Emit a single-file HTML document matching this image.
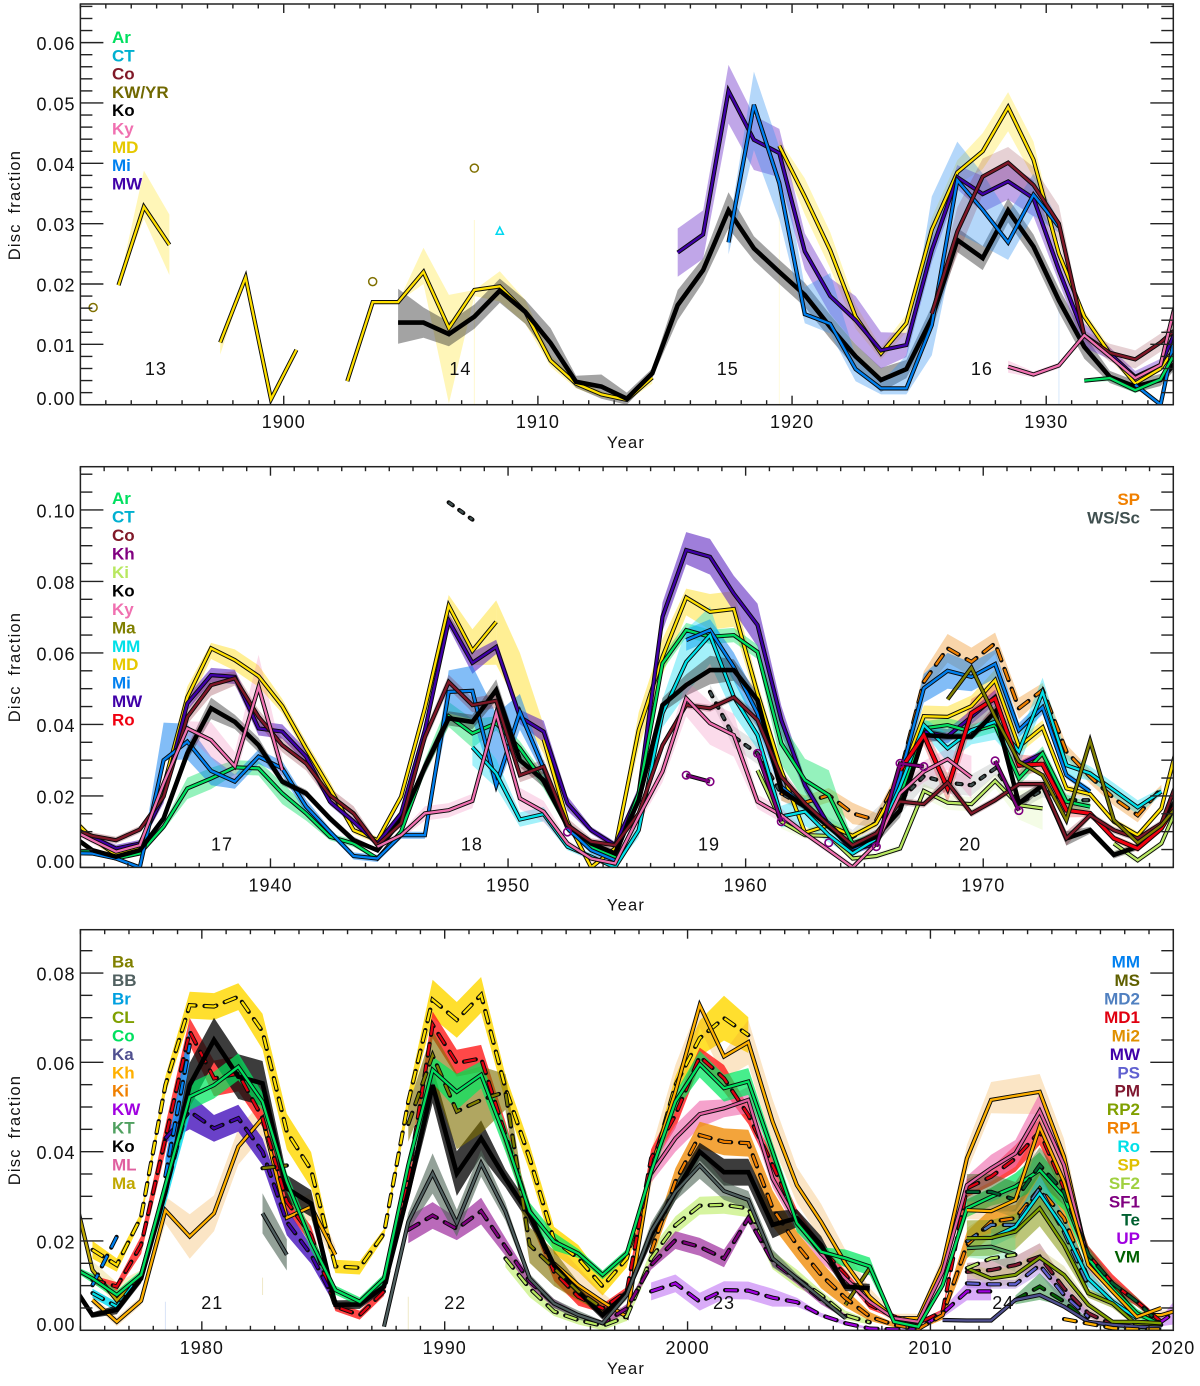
<!DOCTYPE html>
<html lang="en">
<head>
<meta charset="utf-8">
<title>Disc fraction by year</title>
<style>
html,body{margin:0;padding:0;background:#fff}
svg{display:block}
text{font-family:"Liberation Sans",sans-serif;fill:#111}
.tick{font-size:18px;letter-spacing:1px}
.lg{font-size:17px;font-weight:bold}
.ttl{font-size:16.5px;letter-spacing:1.2px;word-spacing:4px}
</style>
</head>
<body>
<svg id="chart" xmlns="http://www.w3.org/2000/svg" width="1200" height="1386" viewBox="0 0 1200 1386"></svg>
<script>
/* ---------- data : panel 1 (1892-1935) ---------- */
const p1Cycles=['13','14','15','16'];
const p1CycleYears=[1894.97,1906.95,1917.47,1927.47];
const p1XTicks=[1900,1910,1920,1930];
const p1YTicks=[0,0.01,0.02,0.03,0.04,0.05,0.06];
const p1LegendLeft=['Ar','CT','Co','KW/YR','Ko','Ky','MD','Mi','MW'];
const p1CircleYears=[1892.5,1903.5,1907.5];
const p1CircleVals=[.0161,.0204,.0392];
const p1TriYears=[1908.5];
const p1TriVals=[.0288];
const p1SpikeYears=[1907.5,1919.5,1930.5];
const p1SpikeTops=[.0306,.042,.0175];
const p1MD=[.0198,.0328,.0265,null,.0103,.0211,.0009,.0091,null,.0039,.017,.017,.022,.0127,.019,.0196,.0154,.0073,.0035,.0017,.0008,.0045,null,null,null,null,.0429,.0345,.0256,.0146,.0085,.0135,.029,.0385,.042,.0493,.0406,.025,.0146,.0085,.0035,.006,.012];
const p1MDe=[0,[.002,.006],.005,0,[.002,0],0,0,0,0,0,0,0,[.002,.004],[.0125,.0055],[.001,0],.0025,.002,.001,.0008,.0005,.0003,.001,0,0,0,0,.001,.003,.003,.002,.001,.0015,.002,.002,.003,[.004,.0025],.003,.001,.001,.001,.0005,.0005,0];
const p1Ko=[.0136,.0136,.0117,.0146,.0189,.0154,.0102,.0038,.003,.001,.0052,.0165,.0223,.0322,.0259,.022,.0182,.0129,.008,.0041,.0059,.0143,.0273,.0243,.0322,.0262,.0173,.0096,.0046,.003,.0041,.009];
const p1Koe=[[.0035,.0056],.0025,.002,.002,.002,.002,.0025,.001,.002,.001,.0008,.0025,.002,.003,.002,.002,.002,.002,.002,.002,.0015,.002,.002,.002,.002,.002,.002,.002,.001,.001,.001,.001];
const p1MW=[.0252,.0282,.052,.0439,.0417,.0254,.018,.014,.009,.0099,.0256,.0377,.0349,.037,.0342,.0223,.0115,.0085,.0046,.0066,.016];
const p1MWe=[.004,.004,[.0054,.0043],[.005,.004],.004,.003,.003,.004,.003,.002,.002,.002,.003,.003,.003,.002,.002,.001,.001,.001,.001];
const p1Mi=[.0269,.0497,.0367,.015,.0134,.0059,.0027,.0027,.0132,.0372,.0323,.0269,.0348,.0295,null,null,.0033,0,.02];
const p1Mie=[.002,[.0075,.0055],.006,[.0015,.0045],[.0016,.0084],.002,.001,[.001,.0055],[.005,.0213],[.0088,.0064],.006,[.0029,.0048],.0035,.001,0,0,0,0,0];
const p1Co=[.0151,.0287,.0378,.0401,.0364,.03,.0115,.0086,.0075,.0103,.014];
const p1Coe=[.001,.004,.003,.0026,.003,.003,.0008,.0015,.0015,.0015,.001];
const p1Ky=[.0063,.005,.0065,.0115,.008,.0044,.0066,.024];
const p1Kye=[.001,.0005,.0005,.0005,.0005,.0005,.0005,0];
const p1Ar=[.004,.0044,.0024,.0042,.012];
const p1Are=[.0003,.0005,.0005,.0005,0];

/* ---------- data : panel 2 (1932-1978) ---------- */
const p2Cycles=['17','18','19','20'];
const p2CycleYears=[1937.96,1948.48,1958.46,1969.45];
const p2XTicks=[1940,1950,1960,1970];
const p2YTicks=[0,0.02,0.04,0.06,0.08,0.10];
const p2LegendLeft=['Ar','CT','Co','Kh','Ki','Ko','Ky','Ma','MM','MD','Mi','MW','Ro'];
const p2LegendRight=['SP','WS/Sc'];
const p2MD=[.0147,.0081,.0035,.0058,.0226,.0476,.0613,.058,.0535,.0451,.0333,.0221,.0104,.0076,.0198,.0445,.0732,.0606,.0687,null,.0358,.0128,0,.0053,.0384,.0589,.0755,.0715,.0723,.0487,.0272,.0097,.0118,.0088,.0123,.0244,.0423,.0421,.0451,.0524,.0338,.0392,.0221,.0205,.0128,.009,.0165,.043];
const p2MDe=[.001,.001,.001,.001,.002,.003,[.003,.0015],.003,.003,.002,.002,.002,.001,.001,.001,.002,[.005,.003],[.004,.006],[.012,.006],0,.004,.001,.001,.001,.005,.005,[.005,.0025],.005,.005,.003,.002,.001,.001,.001,.001,.002,[.003,.003],.003,.003,.003,.002,.002,.001,.001,.001,.001,.001,0];
const p2MDBridge=[.0687,.052,.0358];
const p2MDBridgeE=[[.012,.006],[.008,.008],.004];
const p2MW=[.01,.0085,.0053,.0067,.02,.0459,.0538,.0533,.0389,.038,.031,.0184,.0128,.0067,.0151,.0384,.069,.0572,.0617,.0421,.038,.0179,.0104,.0062,.0207,.0701,.0888,.0869,.0766,.0678,.0412,.023,.0118,.0048,.0067,.02,.038,.0367,.0421,.0477,.0286,.0319];
const p2MWe=[.0005,.0005,.001,.001,.002,.002,.002,.002,.002,.002,.002,.001,.001,.001,.001,.002,.002,.003,.002,.002,.003,.002,.001,.001,.002,.004,[.004,.005],[.005,.005],.005,.006,.004,.002,.001,.001,.001,.002,.002,.002,.002,.002,.001,.001];
const p2Ko=[.0096,.0048,.003,.0048,.0137,.0319,.0445,.0407,.0342,.024,.0207,.0137,.0076,.0048,.0132,.028,.0417,.0407,.0496,.03,.0244,.0118,.0067,.0039,.0188,.0454,.051,.0552,.0552,.0468,.0216,.017,.0114,.0058,.0086,.016,.037,.0366,.0366,.0435,.0179,.023,.0081,.0104,.0035,.0058,.0114,.024];
const p2Koe=[.0005,.0005,.0005,.0005,.001,.002,.003,.002,.002,.001,.001,.001,.001,.0005,.001,.002,.002,.002,.003,.002,.002,.001,.001,.001,.001,.002,.003,.004,.003,.002,.001,.001,.001,.001,.002,.002,.002,.001,.001,.002,.002,.001,.002,.001,.001,.001,.001,.001];
const p2Co=[.0112,.0088,.0076,.0106,.0198,.0421,.051,.0529,.0421,.0342,.0291,.0202,.0151,.0062,.0123,.0365,.0519,.0454,.0466,.0258,.0282,.0118,.0072,.0062,.0151,.0342,.0454,.0445,.0476,.0412,.0254,.0179,.0118,.0062,.0095,.0184,.0177,.0237,.0151,.0188,.0233,.0233,.0081,.0146,.0104,.0081,.0123,.03];
const p2Coe=[.0005,.001,.001,.001,.001,.002,.003,.002,.002,.002,.002,.002,.002,.001,.001,.002,.002,.002,.002,.002,.002,.002,.001,.001,.001,.001,.001,.001,.001,.002,.002,.001,.001,.001,.001,.001,.001,.002,.001,.001,.001,.001,.002,.001,.001,.001,.001,.001];
const p2Ky=[.011,.0076,.0044,.0062,.0235,.0389,.0356,.0283,.0505,.0272,null,null,null,.0058,.009,.0151,.016,.0186,.0431,.0193,.0156,.0067,.0025,.0011,.0142,.0268,.0473,.0403,.037,.0184,.0146,.0095,.0048,0,.0067,.0207,.0268,.0303,.0252];
const p2Kye=[.001,.001,.001,.001,.002,.002,.005,.004,[.002,.009],[.004,.004],0,0,0,.001,.001,.002,.002,.002,.002,.003,.003,.001,.001,.001,.002,.003,.005,.006,.006,.002,.002,.001,.001,.001,.001,.002,.003,.003,.006];
const p2Ar=[.0044,.0044,.0025,.0039,.0114,.0221,.0249,.028,.0277,.0207,.0151,.0086,.0067,.0025,.01,.0282,.0423,.0375,.0403,.0333,.024,.0114,.0058,.003,.0207,.0571,.0664,.0645,.065,.0603,.0347,.0244,.0202,.0067,.009,.02,.0389,.0398,.038,.0398,.0249,.0319,.0184,.017];
const p2Are=[.0005,.0005,.0005,.0005,.001,.003,.003,.002,.002,.003,.002,.001,.001,.0005,.001,.002,[.003,.004],.004,.002,.002,.002,.001,.001,.001,.002,.002,.002,.002,.002,.002,.006,.006,.007,.001,.001,.001,.002,.002,.002,.002,.002,.002,.002,.001];
const p2Mi=[.004,.0039,.0025,0,.03,.0352,.027,.024,.031,.0277,.017,.01,.0032,.0025,.009,.009,.0491,.0494,.023,.0435,.0277,.0109,.0048,.002,null,null,.0636,.0664,.0561,.0431,.0226,.017,.0123,.0053,.0072,.0254,.0501,.055,.0533,.0569,.0384,.0448,.0258,.0212];
const p2Mie=[0,0,0,0,[0,.0105],.005,.004,.002,.002,.002,.002,.001,.001,.001,.001,.001,.006,[.008,.007],[.002,.02],.005,.002,.001,.001,.001,0,0,.003,.003,.004,.004,.002,.001,.001,.001,.001,.003,.004,.005,.004,.004,.002,.002,.001,.001];
const p2MM=[.0336,.0263,.0134,.0149,.0058,.003,0,.0104,.0431,.0575,.065,.0477,.037,.0142,.0156,.009,.0039,.008,.0226,.0398,.0333,.0384,.0407,.0324,.0491,.0286,.0263,.0216,.0168,.0212];
const p2MMe=[.005,.004,.002,.002,.001,.001,.001,.002,.004,.009,.008,.005,.004,.003,.004,.002,.001,.001,.002,.002,.004,.004,.005,.004,.004,.003,.002,.002,.002,.001];
const p2Ro=[.0272,.037,.0221,.0431,.0473,.0286,.0289,.016,.0151,.0081,.0053,.0109,.022];
const p2Roe=[.002,.003,.004,.004,.004,.003,.002,.002,.001,.001,.001,.001,0];
const p2SP=[.0207,.0181,.0202,.0151,.0132,.0263,.0519,.0613,.0575,.0627,.0445,.0496,.0324,.0254,.0193,.0146,.0221];
const p2SPe=[.002,.002,.002,.003,.002,.002,.003,.004,.004,.003,.003,.002,.002,.002,.002,.002,.001];
const p2Ma=[.047,.0559,.0421,.0296,.0258,.0132,.0354,.0132,.0069,.0118,.02];
const p2Ki=[.0272,.0128,.009,.0088,.0025,.0032,.0053,.0214,.0181,.0177,.0242,.0174,.0165,null,null,.0067,.002,.0067,.022];
const p2Kie=[0,.002,.001,.001,.001,.001,.001,.002,.002,.002,.002,.004,.006,.004,.004,.002,.001,.001,0];
const p2WS=[.1021,.0973,null,null,null,null,null,null,null,null,null,.0491,.0365,.0319,.0207,.017,.012,.0085,.0125,.0188,.0255,.0237,.023,.0277,.0179,.0216,.0188,.0188];
const p2WSe=[0,0,0,0,0,0,0,0,0,0,0,.002,.003,.003,.002,.002,.002,.002,.004,.004,.003,.003,.003,.002,.002,.002,.002,.002];
const p2Kh=[.0099,null,null,null,null,.0258,.024,null,.0319,.0128,null,.0069,null,.0058,.0291,.0282,null,null,.0298,.0159];

/* ---------- data : panel 3 (1975-2020) ---------- */
const p3Cycles=['21','22','23','24'];
const p3CycleYears=[1980.43,1990.43,2001.5,2013];
const p3XTicks=[1980,1990,2000,2010,2020];
const p3YTicks=[0,0.02,0.04,0.06,0.08];
const p3LegendLeft=['Ba','BB','Br','CL','Co','Ka','Kh','Ki','KW','KT','Ko','ML','Ma'];
const p3LegendRight=['MM','MS','MD2','MD1','Mi2','MW','PS','PM','RP2','RP1','Ro','SP','SF2','SF1','Te','UP','VM'];
const p3SpikeYears=[1978.5,1982.5,1988.5];
const p3SpikeTops=[.0064,.0118,.0075];
const p3SpikeBottoms=[0,.0079,0];
const p3SP=[.018,.0146,.0254,.0549,.0728,.0725,.0747,.0669,.0445,.0359,.0143,.014,.0217,.0512,.074,.0695,.0751,.0542,.0385,.0202,.0161,.0098,.0161,.0355,.0549,.0654,.0699,.0661];
const p3SPe=[.002,.0015,.001,.002,.003,.003,.003,.004,.004,.004,.0015,.0015,.001,.002,[.004,.0045],.004,[.004,.004],.003,.003,.003,.003,.002,.002,.002,.002,.004,.005,.004];
const p3Ma1=[.036,.0135,.0067,.0125,.032];
const p3Ma1e=[0,.002,[.001,.004],.001,0];
const p3MaTail=[.0057,.0139];
const p3Kh=[.0068,.0019,.0066,.0269,.021,.0262,.0411,.0475,.0252,.0277,.0169,null,null,null,null,null,null,null,null,.015,.0101,.0064,.003,.0363,.0534,.0728,.0613,.0645,.0467,.0325,.0243,.015,.0075,.0027,.0027,.0146,.0385,.0516,.0525,.0534,.0389,.0154,.0101,.0034,.0034,.005];
const p3Khe=[.001,.001,.001,[.003,.003],.005,.004,.004,.004,.003,.003,.002,0,0,0,0,0,0,0,0,.005,.004,.002,.001,.004,.006,[.005,.0005],[.005,.001],.005,.005,.004,.004,.003,.002,.001,.001,.002,.003,[.003,.004],.004,[.005,.004],.004,.001,.001,.001,.001,0];
const p3Ko=[.0116,.0034,.0046,.0116,.031,.0549,.065,.0568,.0553,.0318,.0284,.0057,.0058,.0098,.031,.0549,.0351,.043,.034,.0258,.0146,.0087,.0034,.0083,.0213,.031,.04,.0354,.0354,.0236,.0251,.0191,.0098,.0094];
const p3Koe=[0,.0006,.001,.001,.001,.005,.005,.005,.005,.003,.003,.001,.001,.001,.002,.004,.005,.004,.002,.002,.001,.001,.001,.001,.002,.002,.002,.003,.003,.003,.002,.002,.001,.001];
const p3MD1=[.0113,.0098,.0191,.043,.0669,.0564,.0575,.0475,.0288,.0213,.0053,.0034,.0087,.034,.0684,.0598,.0609,.0437,.0266,.0131,.0075,.0049,.0087,.0385,.0482,.0613,.0564,.0482,.037,.0251,.0184,.0124,.0057,.0031,.0016,.0042,.0318,.0344,.0385,.0445,.0318,.0169,.0105,.0064,.0019];
const p3MD1e=[.001,.001,.002,.003,.003,.004,.004,.002,.002,.002,.001,.001,.001,.002,.003,.003,.003,.003,.002,.002,.002,.001,.001,.002,.003,.002,.003,.002,.002,.002,.001,.001,.001,.0005,.0005,.0005,.002,.002,.003,.003,.002,.002,.002,.001,.0005];
const p3Co=[.0146,.0116,.0079,.0124,.0325,.0523,.0549,.059,.0512,.0333,.0199,.009,.0064,.0116,.037,.0583,.0534,.0572,.043,.0266,.0199,.0172,.0124,.0172,.0355,.0512,.0596,.0542,.0557,.04,.024,.0176,.0161,.0143,.0019,.0008,.0101,.0273,.0299,.0322,.0359,.0299,.0161,.0094,.0038,.0012];
const p3Coe=[.0005,.001,.001,.001,.002,.003,.003,.003,.002,.002,.002,.001,.001,.001,.002,.003,.004,.003,.003,.002,.002,.001,.001,.001,.002,.002,.003,.003,.003,.002,.002,.001,.002,.002,.0005,.0005,.001,.002,.002,.003,.004,.003,.002,.001,.001,.0005];
const p3MW=[.043,.049,.0452,.0475,.04,.0243,.0169,.0064];
const p3MWe=[.001,.004,.003,.003,.003,.003,.002,.001];
const p3Br=[.0101,.021,null,.0345,.0639];
const p3Bre=[0,0,0,.004,.0045];
const p3Ba=[.0083,.0053,.0125,.031,.052];
const p3Bae=[.001,.001,.001,.003,.004];
const p3BB=[.0262,.0169,null,null,null,.0008,.0243,.0351,.024,.0374,.0266,.0116,.006,.0034,.0016,.0079,.0221,.031,.0369,.0312,.0292,.0161,.0116,.0072,.0027];
const p3BBe=[.0045,.0035,0,0,0,0,.002,.0045,.003,.003,.002,.001,.001,.001,.0005,.001,.002,.002,.003,.002,.002,.002,.001,.001,.0005];
const p3Ma=[.0363,.0369,null,null,null,null,.0462,.0616,.049,.0516,.0534,.0191,.0139,.0087,.0049];
const p3Mae=[0,0,0,0,0,0,.004,.0055,.0085,.0075,.004,.004,.004,.002,.001];
const p3SF1=[.0225,.0257,.0227,.0267,.0187,.0109,.006,.0034,.0016,.0049,.0146,.0202,.0187,.0161,.0251,.0154,.0113,.0068,.0031];
const p3SF1e=[.003,.003,.0025,.003,.002,.001,.001,.0005,.0005,.001,.001,.002,.002,.002,.001,.001,.001,.001,.0005];
const p3UP=[.0087,.0105,.0064,.009,.0089,.0073,.0063,.0034,.0016,.0004,.0002,.0002,.0038,.0087,.0087,null,null,null,null,null,.0016,.0019,.0057];
const p3UPe=[.002,.002,.002,.002,.002,.002,.001,.0005,.0005,.0002,.0002,.0002,.001,.002,.002,0,0,0,0,0,.0005,.001,.004];
const p3SF2=[.0161,.0094,.0042,.0023,.001,.0031,.0161,.0235,.0279,.0281,.0273,.0157,.0116,.0079,.0034,.0018];
const p3SF2e=[.002,.002,.001,.001,.001,.001,.002,.002,.002,.002,.002,.002,.002,.001,.001,.0005];
const p3RP1=[.0176,.0333,.0437,.0422,.0419,.0273,.0191,.0124,.0072,.0031,.0012,.0003,.0034,.0191,.0243,.0251,.0318,.0251,.0116];
const p3RP1e=[.002,.003,.003,.003,.003,.004,.003,.003,.002,.001,.0005,.0002,.001,.003,.003,.003,.004,.003,.001];
const p3ML=[.0351,.043,.0484,.0497,.0516,.034,.0243,.0172,.0116,.0064,.0027,.0019,.0131,.0325,.0363,.0396,.0491,.037,.0154,.0094];
const p3MLe=[.002,.003,.003,.002,.003,.002,.002,.002,.001,.001,.0005,.0005,.002,.002,.003,.003,.004,.003,.002,.001];
const p3Mi2=[.0269,.0267,.0292,.0456,.0333,.0146,.0087,.003,.005];
const p3Mi2e=[.002,.002,.002,.003,.003,.002,.001,.001,0];
const p3Te=[.031,.031,.0292,.037,.031,.0169,.0105,.0064,.0012];
const p3Tee=[.004,.004,.004,.004,.003,.002,.001,.001,.0005];
const p3VM=[.0068,.0098,.0064,.0019,.0008,.0004,.0003];
const p3VMe=[.001,.003,.001,.0005,.0003,.0002,.0002];
const p3PM=[.0131,.0135,.0146,.0165,.0094,.0038,.0012];
const p3PMe=[.002,.002,.002,.003,.002,.001,.0005];
const p3PS=[.0105,.0103,.0103,.0146,.0079,.003];
const p3PSe=[.001,.001,.001,.002,.002,.001];
const p3MD2=[.0199,.0236,.0236,.0318,.022,.01];
const p3MD2e=[.003,.003,.003,.003,.002,.001];
const p3Ro=[.0206,.0232,.0307,.0228,.0116,.0064,.0027];
const p3Roe=[.002,.002,.004,.003,.002,.001,.001];
const p3RP2=[.0206,.0207,.0221,.0273,.0191,.0083,.006,.0012,.0008];
const p3RP2e=[.004,.004,.004,.004,.003,.001,.001,.0005,.0003];
const p3MS=[.0139,.0116,.0124,.0163,.0124,.0057,.0019,.0019,.0016];
const p3MSe=[.001,.002,.002,.002,.002,.001,.0005,.0005,.0003];
const p3KT=[.0184,.0187,.017];
const p3KTe=[.002,.003,.004];
const p3SFb=[.0139,.0161,.0169];
const p3Ka=[.0023,.0022,.0022,.0068,.0079,.0053,.0019,.0012,.0008,.0006];
const p3Late=[.0025,.0015,.0005,.0002,.0002];

/* ---------- palette & layout ---------- */
const palette={Ar:'#00e060',CT:'#00b0d0',Co:'#801828',KWYR:'#706800',Ko:'#000000',Ky:'#f070b0',MD:'#ffe000',MDt:'#e6c800',Mi:'#0080f0',MW:'#4000a8',Kh:'#800080',Ki:'#b8e860',Ma:'#808000',MM:'#00e0e8',Ro:'#f00010',SP:'#f08000',WS:'#405050',
 Ba:'#808000',BB:'#506060',Br:'#00a0e0',CL:'#80a000',Ka:'#505090',KW:'#a000e0',KT:'#50a060',ML:'#e060a0',Ma3:'#c0a800',MS:'#606000',MD2:'#5080c0',MD1:'#e00010',Mi2:'#e09000',PS:'#6060d0',PM:'#801830',RP2:'#80a000',RP1:'#f08000',SPy:'#e0c000',SF2:'#a0d040',SF1:'#800080',Te:'#006030',UP:'#a000e0',VM:'#006000',Kho:'#ffb000',Gr:'#00e060',Co3:'#00e060'};
const legendColors={Ar:'Ar',CT:'CT',Co:'Co','KW/YR':'KWYR',Ko:'Ko',Ky:'Ky',MD:'MDt',Mi:'Mi',MW:'MW',Kh:'Kh',Ki:'Ki',Ma:'Ma',MM:'MM',Ro:'Ro',SP:'SP','WS/Sc':'WS'};
const legend3L={Ba:'Ba',BB:'BB',Br:'Br',CL:'CL',Co:'Gr',Ka:'Ka',Kh:'Kho',Ki:'SP',KW:'KW',KT:'KT',Ko:'Ko',ML:'ML',Ma:'Ma3'};
const legend3R={MM:'Mi',MS:'MS',MD2:'MD2',MD1:'MD1',Mi2:'Mi2',MW:'MW',PS:'PS',PM:'PM',RP2:'RP2',RP1:'RP1',Ro:'MM',SP:'SPy',SF2:'SF2',SF1:'SF1',Te:'Te',UP:'UP',VM:'VM'};

const panels=[
 {id:'top',L:80.4,R:1173.3,T:4,B:404.7,x0:1892,x1:1935,yMax:.0664,yMinor:.002,labelBase:428,yearBase:448,titleY:205,cycleBase:375,
  xticks:p1XTicks,yticks:p1YTicks,cycles:p1Cycles,cycleYears:p1CycleYears,
  legL:p1LegendLeft,legLMap:legendColors,legLBase:43,legStep:18.3,legR:[],legRMap:{},legRBase:0,
  spikes:{years:p1SpikeYears,tops:p1SpikeTops,colors:['#fff8d0','#fffbe0','#d8e8fb']},
  series:[
   {n:'md',s:1893.5,v:p1MD,e:p1MDe,c:'MD',b:'#ffe000',o:.28},
   {n:'ko',s:1904.5,v:p1Ko,e:p1Koe,c:'Ko',b:'#333333',o:.45,k:'thick'},
   {n:'mw',s:1915.5,v:p1MW,e:p1MWe,c:'MW',b:'#6a2ac8',o:.42},
   {n:'mi',s:1917.5,v:p1Mi,e:p1Mie,c:'Mi',b:'#3090f0',o:.36},
   {n:'co',s:1925.5,v:p1Co,e:p1Coe,c:'Co',b:'#801828',o:.2},
   {n:'ky',s:1928.5,v:p1Ky,e:p1Kye,c:'Ky',b:'#f070b0',o:.25},
   {n:'ar',s:1931.5,v:p1Ar,e:p1Are,c:'Ar',b:'#00e060',o:.3}
  ]},
 {id:'middle',L:80.4,R:1173.3,T:466.7,B:867.4,x0:1932,x1:1978,yMax:.1121,yMinor:.005,labelBase:891.7,yearBase:910.7,titleY:667,cycleBase:850.7,
  xticks:p2XTicks,yticks:p2YTicks,cycles:p2Cycles,cycleYears:p2CycleYears,
  legL:p2LegendLeft,legLMap:legendColors,legLBase:504,legStep:18.47,legR:p2LegendRight,legRMap:legendColors,legRBase:505,
  series:[
   {n:'sp',s:1961.5,v:p2SP,e:p2SPe,c:'SP',b:'#f09020',o:.38,k:'dash'},
   {n:'ki',s:1960.5,v:p2Ki,e:p2Kie,c:'Ki',b:'#c8f080',o:.2},
   {n:'ws',s:1947.5,v:p2WS,e:p2WSe,c:'WS',b:'#405050',o:.14,k:'dash',d:'5 8'},
   {n:'md',s:1931.5,v:p2MD,e:p2MDe,c:'MD',b:'#ffd800',o:.42},
   {n:'md-bridge',s:1949.5,v:p2MDBridge,e:p2MDBridgeE,c:'MD',b:'#ffd800',o:.42,k:'band'},
   {n:'mw',s:1931.5,v:p2MW,e:p2MWe,c:'MW',b:'#5a20c0',o:.58},
   {n:'ar',s:1931.5,v:p2Ar,e:p2Are,c:'Ar',b:'#00e060',o:.42},
   {n:'mi',s:1931.5,v:p2Mi,e:p2Mie,c:'Mi',b:'#1080f0',o:.52},
   {n:'mm',s:1948.5,v:p2MM,e:p2MMe,c:'MM',b:'#00d8f0',o:.36},
   {n:'ko',s:1931.5,v:p2Ko,e:p2Koe,c:'Ko',b:'#333333',o:.45,k:'thick'},
   {n:'ro',s:1966.5,v:p2Ro,e:p2Roe,c:'Ro',b:'#f02020',o:.3,w:3},
   {n:'co',s:1931.5,v:p2Co,e:p2Coe,c:'Co',b:'#801828',o:.28},
   {n:'ky',s:1931.5,v:p2Ky,e:p2Kye,c:'Ky',b:'#f070b0',o:.25},
   {n:'ma',s:1968.5,v:p2Ma,c:'Ma'},
   {n:'kh',s:1952.5,v:p2Kh,c:'Kh',k:'mark'}
  ]},
 {id:'bottom',L:80.4,R:1173.3,T:929.7,B:1330.3,x0:1975,x1:2020,yMax:.0897,yMinor:.005,labelBase:1354,yearBase:1374,titleY:1130,cycleBase:1309,
  xticks:p3XTicks,yticks:p3YTicks,cycles:p3Cycles,cycleYears:p3CycleYears,
  legL:p3LegendLeft,legLMap:legend3L,legLBase:967.7,legStep:18.43,legR:p3LegendRight,legRMap:legend3R,legRBase:967.7,
  spikes:{years:p3SpikeYears,tops:p3SpikeTops,bottoms:p3SpikeBottoms,colors:['#d8e4f8','#efe8c8','#efe8c8']},
  series:[
   {n:'sp',s:1975.5,v:p3SP,e:p3SPe,c:'MD',b:'#ffd800',o:.82,k:'dash'},
   {n:'ma-early',s:1974.5,v:p3Ma1,e:p3Ma1e,c:'Ma3',b:'#f0e090',o:.5},
   {n:'ma-tail',s:2006.5,v:p3MaTail,c:'Ma'},
   {n:'kh',s:1975.5,v:p3Kh,e:p3Khe,c:'Kho',b:'#f0a030',o:.28},
   {n:'md1',s:1975.5,v:p3MD1,e:p3MD1e,c:'MD1',b:'#ff2020',o:.82,k:'dash'},
   {n:'ml',s:1998.5,v:p3ML,e:p3MLe,c:'ML',b:'#f070b0',o:.65},
   {n:'mw',s:1978.5,v:p3MW,e:p3MWe,c:'MW',b:'#5020c0',o:.85,k:'dash'},
   {n:'br',s:1975.5,v:p3Br,e:p3Bre,c:'Mi',b:'#2090f0',o:.9,k:'dash'},
   {n:'ba',s:1975.5,v:p3Ba,e:p3Bae,c:'MM',b:'#00d8f0',o:.8,k:'dash'},
   {n:'sf2',s:1992.5,v:p3SF2,e:p3SF2e,c:'Ki',b:'#c8f080',o:.75,k:'dash'},
   {n:'sf1',s:1988.5,v:p3SF1,e:p3SF1e,c:'Kh',b:'#a030a0',o:.72,k:'dash'},
   {n:'up',s:1998.5,v:p3UP,e:p3UPe,c:'KW',b:'#b050f0',o:.48,k:'dash'},
   {n:'rp1',s:1998.5,v:p3RP1,e:p3RP1e,c:'RP1',b:'#f09010',o:.82,k:'dash'},
   {n:'ko',s:1974.5,v:p3Ko,e:p3Koe,c:'Ko',b:'#111111',o:.82,k:'thick'},
   {n:'ma',s:1982.5,v:p3Ma,e:p3Mae,c:'Ma',b:'#807000',o:.62,k:'dash'},
   {n:'bb',s:1982.5,v:p3BB,e:p3BBe,c:'BB',b:'#506858',o:.62,w:2.2},
   {n:'co',s:1974.5,v:p3Co,e:p3Coe,c:'Co3',b:'#00e860',o:.72},
   {n:'te',s:2011.5,v:p3Te,e:p3Tee,c:'Te',b:'#507030',o:.5,k:'dash'},
   {n:'md2',s:2011.5,v:p3MD2,e:p3MD2e,c:'MD2',b:'#f0b040',o:.45,k:'dash'},
   {n:'ro',s:2012.5,v:p3Ro,e:p3Roe,c:'MM',b:'#00c0e0',o:.55},
   {n:'rp2',s:2011.5,v:p3RP2,e:p3RP2e,c:'RP2',b:'#90a020',o:.6},
   {n:'kt',s:2011.5,v:p3KT,e:p3KTe,c:'KT',b:'#50e090',o:.35},
   {n:'pm',s:2011.5,v:p3PM,e:p3PMe,c:'PM',b:'#a05060',o:.4,k:'dash'},
   {n:'ms',s:2011.5,v:p3MS,e:p3MSe,c:'CL',b:'#c0c060',o:.35},
   {n:'ps',s:2011.5,v:p3PS,e:p3PSe,c:'PS',b:'#a070e0',o:.4,k:'dash'},
   {n:'sf2b',s:2011.5,v:p3SFb,c:'Ki',k:'dash'},
   {n:'vm',s:2013.5,v:p3VM,e:p3VMe,c:'VM',b:'#309040',o:.55,k:'dash'},
   {n:'ka',s:2010.5,v:p3Ka,c:'Ka'},
   {n:'mi2',s:2011.5,v:p3Mi2,e:p3Mi2e,c:'Kho',b:'#f0a030',o:.25},
   {n:'late',s:2015.5,v:p3Late,c:'Kho',k:'dash'}
  ]}
];

const NS='http://www.w3.org/2000/svg';
const svg=document.getElementById('chart');
function mk(tag,parent,attrs){
  const el=document.createElementNS(NS,tag);
  for(const k in attrs) el.setAttribute(k,attrs[k]);
  parent.appendChild(el);
  return el;
}
function fmt(v){return v.toFixed(2);}

panels.forEach(function(p){
  const xs=function(y){return p.L+(y-p.x0)*(p.R-p.L)/(p.x1-p.x0);};
  const ys=function(v){return p.B-v*(p.B-p.T)/p.yMax;};
  const g=mk('g',svg,{});
  
  
  const cp=mk('clipPath',g,{id:'clip-'+p.id});
  mk('rect',cp,{x:p.L,y:p.T,width:p.R-p.L,height:p.B-p.T});
  const plot=mk('g',g,{'clip-path':'url(#clip-'+p.id+')'});
  
  
  const bandLayer=mk('g',plot,{});
  const lineLayer=mk('g',plot,{});

  if(p.spikes){
    p.spikes.years.forEach(function(y,i){
      const low=p.spikes.bottoms?p.spikes.bottoms[i]:0;
      const sp=mk('line',bandLayer,{x1:xs(y),x2:xs(y),y1:ys(low),y2:ys(p.spikes.tops[i]),stroke:p.spikes.colors[i],'stroke-width':1});
      
      
    });
  }

  p.series.forEach(function(s){
    let run=[],runs=[];
    s.v.forEach(function(val,i){
      if(val===null){ if(run.length) runs.push(run); run=[]; }
      else run.push(i);
    });
    if(run.length) runs.push(run);
    runs.forEach(function(r){
      if(s.e&&r.length>1){
        const up=[],dn=[];
        r.forEach(function(i){
          const e=s.e[i]===undefined?0:s.e[i];
          const d=Array.isArray(e)?e[0]:e,u=Array.isArray(e)?e[1]:e;
          const x=xs(s.s+i);
          up.push(x.toFixed(1)+','+ys(s.v[i]+u).toFixed(1));
          dn.unshift(x.toFixed(1)+','+ys(Math.max(0,s.v[i]-d)).toFixed(1));
        });
        const band=mk('polygon',bandLayer,{points:up.concat(dn).join(' '),fill:s.b,'fill-opacity':s.o});
        
        
      }
      if(s.k==='band') return;
      const pts=r.map(function(i){return xs(s.s+i).toFixed(1)+','+ys(s.v[i]).toFixed(1);}).join(' ');
      const col=palette[s.c];
      if(s.k==='thick'){
        const l=mk('polyline',lineLayer,{points:pts,fill:'none',stroke:'#000','stroke-width':4.6,'stroke-linejoin':'miter'});
        
        
      }else{
        const isDash=s.k==='dash';
        const dash=isDash?(s.d||'12 9'):'none';
        const w=s.w||2.3;
        const o=mk('polyline',lineLayer,{points:pts,fill:'none',stroke:'#0a0a0a','stroke-width':w+1.9,'stroke-dasharray':dash,'stroke-linecap':isDash?'round':'butt','stroke-linejoin':'miter'});
        
        
        const l=mk('polyline',lineLayer,{points:pts,fill:'none',stroke:col,'stroke-width':w,'stroke-dasharray':dash,'stroke-linejoin':'miter'});
        
        
      }
      if(s.k==='mark'){
        r.forEach(function(i){
          const m=mk('circle',lineLayer,{cx:xs(s.s+i),cy:ys(s.v[i]),r:3.8,fill:'none',stroke:col,'stroke-width':1.6});
          
          
        });
      }
    });
  });

  if(p.id==='top'){
    p1CircleYears.forEach(function(y,i){
      const m=mk('circle',lineLayer,{cx:xs(y),cy:ys(p1CircleVals[i]),r:4,fill:'none',stroke:'#807000','stroke-width':1.5});
      
      
    });
    p1TriYears.forEach(function(y,i){
      const x=xs(y),t=ys(p1TriVals[i]);
      const m=mk('polygon',lineLayer,{points:(x-3.6)+','+(t+3.4)+' '+(x+3.6)+','+(t+3.4)+' '+x+','+(t-3.8),fill:'none',stroke:'#00d8f0','stroke-width':1.5});
      
      
    });
  }

  const frame=mk('rect',g,{x:p.L,y:p.T,width:p.R-p.L,height:p.B-p.T,fill:'none',stroke:'#222','stroke-width':1.5});
  
  

  const axis=mk('g',g,{stroke:'#222','stroke-width':1.4});
  
  
  for(let y=Math.ceil(p.x0);y<=p.x1;y++){
    const major=y%10===0, len=major?9:4.5, X=xs(y);
    mk('line',axis,{x1:X,x2:X,y1:p.B,y2:p.B-len});
    mk('line',axis,{x1:X,x2:X,y1:p.T,y2:p.T+len});
  }
  const minorCount=Math.floor(p.yMax/p.yMinor+1e-6);
  const majorEvery=p.yMinor===.002?5:4;
  for(let i=0;i<=minorCount;i++){
    const v=i*p.yMinor, Y=ys(v), major=i%majorEvery===0, len=major?23:12;
    mk('line',axis,{x1:p.L,x2:p.L+len,y1:Y,y2:Y});
    mk('line',axis,{x1:p.R,x2:p.R-len,y1:Y,y2:Y});
  }
  p.xticks.forEach(function(t){
    const el=mk('text',g,{x:xs(t),y:p.labelBase,'text-anchor':'middle','class':'tick'});
    el.textContent=String(t);
    
    
  });
  p.yticks.forEach(function(t){
    const el=mk('text',g,{x:75.5,y:t===0?ys(t)+.5:ys(t)+7.5,'text-anchor':'end','class':'tick'});
    el.textContent=fmt(t);
    
    
  });
  const xt=mk('text',g,{x:626,y:p.yearBase,'text-anchor':'middle','class':'ttl'});
  xt.textContent='Year';
  
  
  const yt=mk('text',g,{x:20,y:p.titleY,'text-anchor':'middle','class':'ttl',transform:'rotate(-90 20 '+p.titleY+')'});
  yt.textContent='Disc fraction';
  
  

  p.cycles.forEach(function(c,i){
    const el=mk('text',g,{x:xs(p.cycleYears[i]),y:p.cycleBase,'text-anchor':'middle','class':'tick'});
    el.textContent=c;
    
    
  });

  p.legL.forEach(function(t,i){
    const el=mk('text',g,{x:112,y:p.legLBase+i*p.legStep,'class':'lg',style:'fill:'+palette[p.legLMap[t]]});
    el.textContent=t;
    
    
  });
  p.legR.forEach(function(t,i){
    const el=mk('text',g,{x:1140,y:p.legRBase+i*p.legStep,'text-anchor':'end','class':'lg',style:'fill:'+palette[p.legRMap[t]]});
    el.textContent=t;
    
    
  });
});
</script>
</body>
</html>
